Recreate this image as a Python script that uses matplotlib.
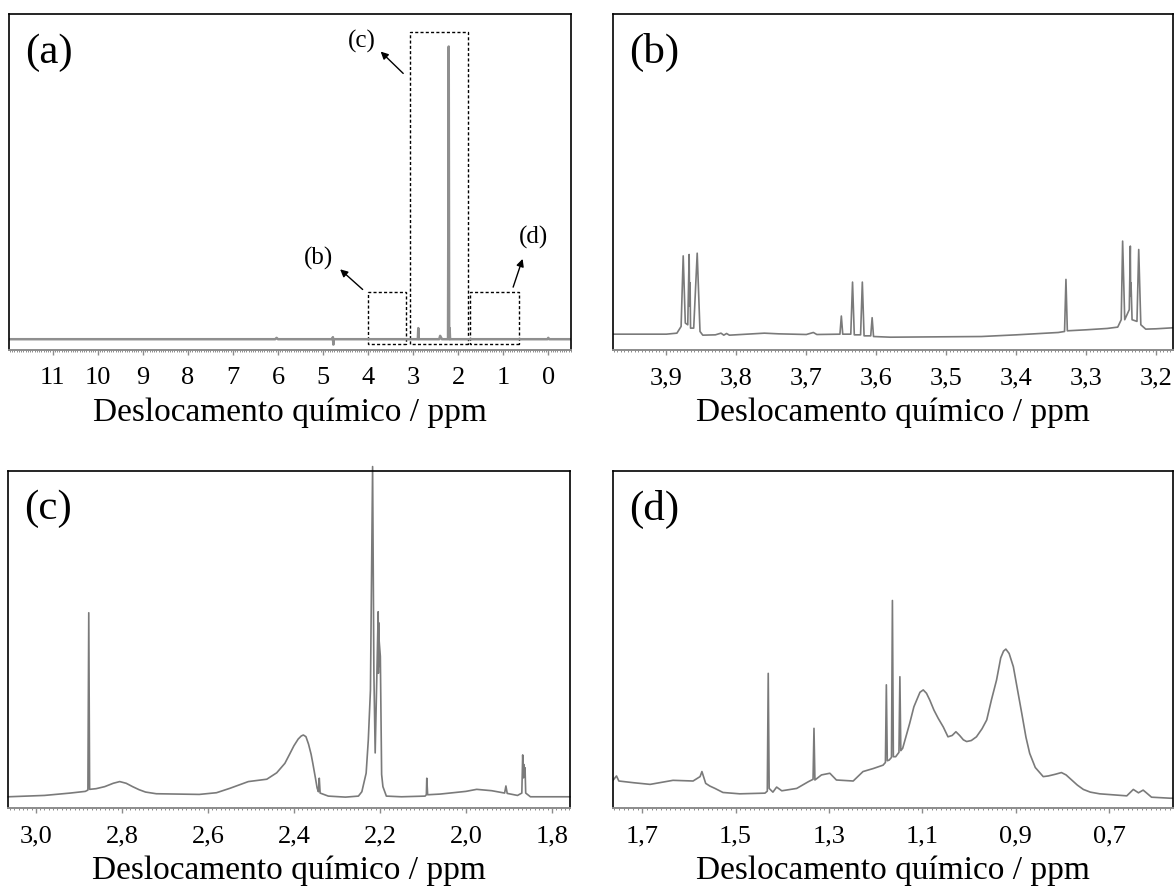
"""1H NMR spectrum: full range (a) plus three expanded regions (b)-(d)."""
import numpy as np
import matplotlib
matplotlib.use("Agg")
import matplotlib.pyplot as plt
from matplotlib.patches import Rectangle
from matplotlib.ticker import FixedLocator, MultipleLocator

plt.rcParams["font.family"] = ["Liberation Serif", "DejaVu Serif"]

XLABEL = "Deslocamento químico / ppm"
PANEL_LABELS = ["(a)", "(b)", "(c)", "(d)"]

# ---- panel (a): full spectrum (intensity in fraction of the frame height)
PPM_A = [12.0, 6.06, 6.03, 6.00, 4.80, 4.78, 4.77, 4.76, 2.895, 2.885, 2.875,
         2.42, 2.40, 2.36, 2.225, 2.21, 2.20, 2.195, 2.19, 2.18, 0.02, 0.0,
         -0.02, -0.5]
INT_A = [0.032, 0.032, 0.036, 0.032, 0.032, 0.038, 0.016, 0.032, 0.032, 0.065,
         0.032, 0.032, 0.042, 0.032, 0.032, 0.903, 0.032, 0.032, 0.065, 0.032,
         0.032, 0.036, 0.032, 0.032]
TICKS_A = [11, 10, 9, 8, 7, 6, 5, 4, 3, 2, 1, 0]
XLIM_A = (11.96, -0.5)

# zoom boxes drawn on (a): (ppm_left, ppm_right, bottom, top)
BOXES = {"(b)": (4.01, 3.16, 0.018, 0.172),
         "(c)": (3.08, 1.78, 0.018, 0.947),
         "(d)": (1.73, 0.65, 0.018, 0.172)}
BOX_TEXT = {"(b)": (5.10, 0.273), "(c)": (4.14, 0.918), "(d)": (0.33, 0.335)}
# arrow tail -> head
BOX_ARROWS = {"(b)": ((4.12, 0.180), (4.62, 0.240)),
              "(c)": ((3.22, 0.823), (3.72, 0.888)),
              "(d)": ((0.78, 0.187), (0.57, 0.271))}

# ---- panel (b): 3.98 - 3.18 ppm
PPM_B = [3.976, 3.90, 3.885, 3.879, 3.876, 3.873, 3.8695, 3.8675, 3.8668,
         3.8662, 3.8655, 3.861, 3.856, 3.852, 3.848, 3.83, 3.822, 3.818, 3.814,
         3.81, 3.76, 3.74, 3.70, 3.69, 3.685, 3.652, 3.650, 3.648, 3.6365,
         3.634, 3.6315, 3.6225, 3.620, 3.6175, 3.608, 3.606, 3.604, 3.58, 3.45,
         3.40, 3.34, 3.331, 3.329, 3.327, 3.30, 3.27, 3.255, 3.250, 3.248,
         3.245, 3.2385, 3.237, 3.2365, 3.236, 3.2345, 3.2275, 3.225, 3.222,
         3.215, 3.20, 3.176]
INT_B = [0.047, 0.047, 0.050, 0.070, 0.280, 0.080, 0.075, 0.284, 0.130,
         0.200, 0.065, 0.065, 0.288, 0.055, 0.044, 0.045, 0.050, 0.044, 0.049,
         0.044, 0.050, 0.048, 0.046, 0.052, 0.046, 0.047, 0.101, 0.047, 0.047,
         0.202, 0.045, 0.045, 0.202, 0.042, 0.042, 0.096, 0.040, 0.038, 0.040,
         0.045, 0.052, 0.055, 0.210, 0.057, 0.060, 0.064, 0.068, 0.090, 0.324,
         0.090, 0.120, 0.309, 0.160, 0.200, 0.090, 0.085, 0.299, 0.075,
         0.062, 0.063, 0.066]
TICKS_B = [3.9, 3.8, 3.7, 3.6, 3.5, 3.4, 3.3, 3.2]
XLIM_B = (3.976, 3.176)

# ---- panel (c): 3.06 - 1.76 ppm
PPM_C = [3.064, 2.98, 2.92, 2.885, 2.879, 2.877, 2.875, 2.86, 2.84, 2.82,
         2.805, 2.79, 2.775, 2.76, 2.745, 2.72, 2.62, 2.58, 2.549, 2.506,
         2.463, 2.44, 2.421, 2.41, 2.40, 2.39, 2.383, 2.378, 2.372, 2.366,
         2.36, 2.356, 2.35, 2.346, 2.343, 2.341, 2.339, 2.32, 2.28, 2.25,
         2.242, 2.232, 2.227, 2.222, 2.217, 2.214, 2.211, 2.207, 2.204,
         2.2035, 2.203, 2.2025, 2.202, 2.199, 2.196, 2.193, 2.185, 2.15, 2.095,
         2.092, 2.091, 2.089, 2.06, 2.00, 1.975, 1.94, 1.91, 1.907, 1.904,
         1.88, 1.87, 1.868, 1.866, 1.8655, 1.864, 1.8625, 1.861, 1.85, 1.758]
INT_C = [0.034, 0.038, 0.045, 0.050, 0.054, 0.579, 0.056, 0.058, 0.064, 0.074,
         0.079, 0.074, 0.064, 0.055, 0.048, 0.043, 0.041, 0.046, 0.059, 0.079,
         0.086, 0.105, 0.133, 0.160, 0.185, 0.205, 0.214, 0.217, 0.212, 0.190,
         0.160, 0.133, 0.090, 0.060, 0.049, 0.089, 0.045, 0.036, 0.033, 0.036,
         0.049, 0.104, 0.202, 0.350, 1.012, 0.400, 0.164, 0.400, 0.582,
         0.400, 0.550, 0.420, 0.500, 0.450, 0.100, 0.064, 0.036, 0.034, 0.036,
         0.040, 0.089, 0.040, 0.042, 0.050, 0.056, 0.052, 0.045, 0.066, 0.044,
         0.038, 0.045, 0.158, 0.090, 0.130, 0.100, 0.120, 0.045, 0.034, 0.034]
TICKS_C = [3.0, 2.8, 2.6, 2.4, 2.2, 2.0, 1.8]
XLIM_C = (3.064, 1.758)

# ---- panel (d): 1.76 - 0.56 ppm
PPM_D = [1.762, 1.755, 1.750, 1.719, 1.683, 1.634, 1.591, 1.576, 1.572, 1.564,
         1.555, 1.544, 1.527, 1.491, 1.437, 1.432, 1.430, 1.428, 1.420, 1.412,
         1.401, 1.369, 1.344, 1.334, 1.332, 1.330, 1.316, 1.298, 1.284, 1.248,
         1.227, 1.205, 1.184, 1.179, 1.177, 1.175, 1.171, 1.166, 1.164, 1.162,
         1.157, 1.150, 1.148, 1.146, 1.142, 1.127, 1.118, 1.112, 1.105, 1.098,
         1.091, 1.084, 1.075, 1.066, 1.055, 1.045, 1.036, 1.028, 1.020, 1.012,
         1.005, 0.995, 0.984, 0.972, 0.962, 0.952, 0.941, 0.932, 0.926, 0.921,
         0.914, 0.905, 0.896, 0.887, 0.878, 0.870, 0.858, 0.841, 0.830, 0.815,
         0.802, 0.792, 0.780, 0.768, 0.755, 0.740, 0.720, 0.662, 0.648, 0.637,
         0.627, 0.620, 0.609, 0.569, 0.563]
INT_D = [0.083, 0.095, 0.080, 0.075, 0.070, 0.082, 0.080, 0.093, 0.108, 0.073,
         0.065, 0.058, 0.046, 0.042, 0.044, 0.050, 0.399, 0.058, 0.047, 0.062,
         0.051, 0.058, 0.078, 0.085, 0.236, 0.083, 0.098, 0.103, 0.083, 0.080,
         0.108, 0.117, 0.127, 0.135, 0.365, 0.140, 0.142, 0.150, 0.615, 0.152,
         0.152, 0.165, 0.389, 0.170, 0.177, 0.251, 0.300, 0.320, 0.343, 0.350,
         0.340, 0.320, 0.290, 0.266, 0.240, 0.211, 0.215, 0.226, 0.215, 0.202,
         0.197, 0.200, 0.211, 0.235, 0.261, 0.320, 0.379, 0.445, 0.465, 0.471,
         0.458, 0.419, 0.350, 0.281, 0.210, 0.162, 0.120, 0.093, 0.095, 0.100,
         0.105, 0.098, 0.083, 0.068, 0.055, 0.047, 0.042, 0.036, 0.055, 0.045,
         0.053, 0.045, 0.032, 0.029, 0.029]
TICKS_D = [1.7, 1.5, 1.3, 1.1, 0.9, 0.7]
XLIM_D = (1.762, 0.563)

TRACE = "#7a7a7a"
RULER = "#8c8c8c"


def _comma(v, nd=1):
    return f"{v:.{nd}f}".replace(".", ",")


def _style(ax, ticks, labels, xlim, minor_step):
    ax.set_xlim(*xlim)
    ax.set_ylim(0, 1)
    ax.set_yticks([])
    for side in ("left", "top", "right"):
        ax.spines[side].set_linewidth(1.2)
        ax.spines[side].set_color("black")
    ax.spines["bottom"].set_color(RULER)
    ax.spines["bottom"].set_linewidth(1.4)
    ax.xaxis.set_major_locator(FixedLocator(ticks))
    ax.set_xticklabels(labels)
    ax.xaxis.set_minor_locator(MultipleLocator(minor_step))
    ax.tick_params(axis="x", which="major", direction="out", length=3.5,
                   width=1.0, color=RULER, labelsize=19, pad=9)
    ax.tick_params(axis="x", which="minor", direction="out", length=1.6,
                   width=0.7, color=RULER)
    ax.set_xlabel(XLABEL, fontsize=24, labelpad=6)


def _panel_label(ax, text):
    ax.text(0.028, 0.943, text, transform=ax.transAxes, fontsize=31,
            ha="left", va="top")


fig = plt.figure(figsize=(11.75, 8.88), dpi=100)
ax_a = fig.add_axes([0.0080, 0.6059, 0.4778, 0.3784])
ax_b = fig.add_axes([0.5219, 0.6059, 0.4764, 0.3784])
ax_c = fig.add_axes([0.0071, 0.0898, 0.4780, 0.3802])
ax_d = fig.add_axes([0.5219, 0.0901, 0.4764, 0.3799])

# (a) full spectrum with zoom boxes
ax_a.plot(PPM_A, INT_A, color="#8f8f8f", lw=1.8)
_style(ax_a, TICKS_A, [str(t) for t in TICKS_A], XLIM_A, 0.05)
for key, (x0, x1, y0, y1) in BOXES.items():
    ax_a.add_patch(Rectangle((x1, y0), x0 - x1, y1 - y0, fill=False,
                             edgecolor="black", lw=1.0, ls=(0, (2.2, 1.6))))
    tx, ty = BOX_TEXT[key]
    ax_a.text(tx, ty, key, fontsize=18, ha="center", va="center")
    (x_t, y_t), (x_h, y_h) = BOX_ARROWS[key]
    ax_a.annotate("", xy=(x_h, y_h), xytext=(x_t, y_t),
                  arrowprops=dict(arrowstyle="-|>", color="black", lw=1.0,
                                  mutation_scale=11, shrinkA=0, shrinkB=0))

# (b)-(d) expansions
ax_b.plot(PPM_B, INT_B, color=TRACE, lw=1.2)
_style(ax_b, TICKS_B, [_comma(t) for t in TICKS_B], XLIM_B, 0.005)

ax_c.plot(PPM_C, INT_C, color=TRACE, lw=1.2, clip_on=False)
_style(ax_c, TICKS_C, [_comma(t) for t in TICKS_C], XLIM_C, 0.01)

ax_d.plot(PPM_D, INT_D, color=TRACE, lw=1.2)
_style(ax_d, TICKS_D, [_comma(t) for t in TICKS_D], XLIM_D, 0.01)

for ax, lab in zip((ax_a, ax_b, ax_c, ax_d), PANEL_LABELS):
    _panel_label(ax, lab)

fig.savefig("out.png", dpi=100)
